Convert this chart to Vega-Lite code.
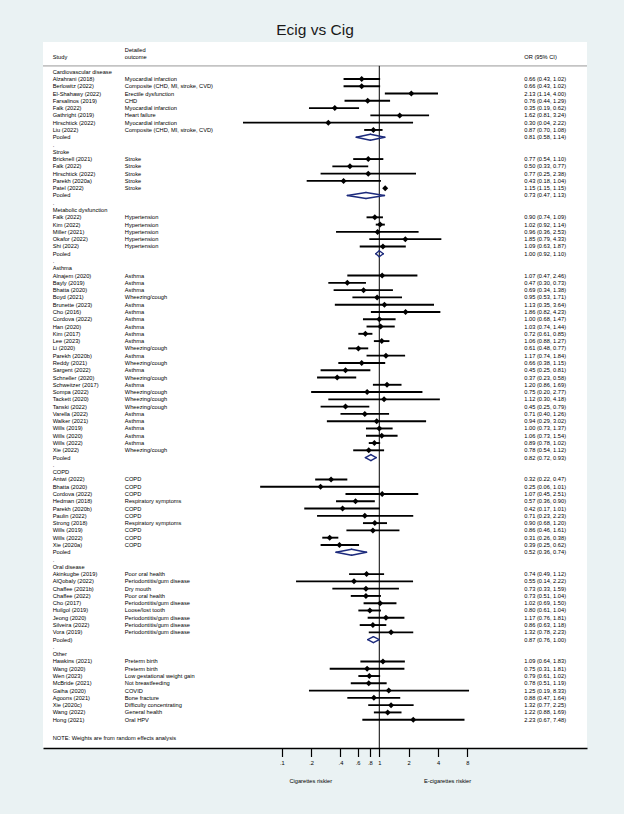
{
  "$schema": "https://vega.github.io/schema/vega-lite/v6.json",
  "width": 544,
  "height": 706,
  "autosize": {"type": "none"},
  "padding": {"left": 43, "top": 42, "right": 37, "bottom": 66},
  "background": "#eaf2f3",
  "title": {"text": "Ecig vs Cig", "fontSize": 15.5, "font": "Liberation Sans", "fontWeight": "normal", "color": "#1a1a1a", "offset": 4, "anchor": "middle"},
  "config": {
    "font": "Liberation Sans",
    "view": {"stroke": null, "fill": "white"},
    "axisY": {"disable": true},
    "axisX": {"domainColor": "#000", "domainWidth": 1.6, "tickColor": "#000", "tickWidth": 1.2, "tickSize": 8.5, "labelFontSize": 5.7, "labelColor": "#000", "labelPadding": 3, "labelFont": "Liberation Sans", "grid": false}
  },
  "datasets": {
    "rows": [
      {"row": -3, "study": "", "outcome": "Detailed", "label": "", "type": "head"},
      {"row": -2, "study": "Study", "outcome": "outcome", "label": "OR (95% CI)", "type": "head"},
      {"row": 0, "study": "Cardiovascular disease", "outcome": "", "label": "", "type": "section"},
      {"row": 1, "study": "Alzahrani (2018)", "outcome": "Myocardial infarction", "or": 0.66, "lci": 0.43, "uci": 1.02, "label": "0.66 (0.43, 1.02)", "type": "study"},
      {"row": 2, "study": "Berlowitz (2022)", "outcome": "Composite (CHD, MI, stroke, CVD)", "or": 0.66, "lci": 0.43, "uci": 1.02, "label": "0.66 (0.43, 1.02)", "type": "study"},
      {"row": 3, "study": "El-Shahawy (2022)", "outcome": "Erectile dysfunction", "or": 2.13, "lci": 1.14, "uci": 4.00, "label": "2.13 (1.14, 4.00)", "type": "study"},
      {"row": 4, "study": "Farsalinos (2019)", "outcome": "CHD", "or": 0.76, "lci": 0.44, "uci": 1.29, "label": "0.76 (0.44, 1.29)", "type": "study"},
      {"row": 5, "study": "Falk (2022)", "outcome": "Myocardial infarction", "or": 0.35, "lci": 0.19, "uci": 0.62, "label": "0.35 (0.19, 0.62)", "type": "study"},
      {"row": 6, "study": "Gathright (2019)", "outcome": "Heart failure", "or": 1.62, "lci": 0.81, "uci": 3.24, "label": "1.62 (0.81, 3.24)", "type": "study"},
      {"row": 7, "study": "Hirschtick (2022)", "outcome": "Myocardial infarction", "or": 0.30, "lci": 0.04, "uci": 2.22, "label": "0.30 (0.04, 2.22)", "type": "study"},
      {"row": 8, "study": "Liu (2022)", "outcome": "Composite (CHD, MI, stroke, CVD)", "or": 0.87, "lci": 0.70, "uci": 1.08, "label": "0.87 (0.70, 1.08)", "type": "study"},
      {"row": 9, "study": "Pooled", "outcome": "", "or": 0.81, "lci": 0.58, "uci": 1.14, "label": "0.81 (0.58, 1.14)", "type": "pooled"},
      {"row": 10, "study": ".", "outcome": "", "label": "", "type": "dot"},
      {"row": 11, "study": "Stroke", "outcome": "", "label": "", "type": "section"},
      {"row": 12, "study": "Bricknell (2021)", "outcome": "Stroke", "or": 0.77, "lci": 0.54, "uci": 1.10, "label": "0.77 (0.54, 1.10)", "type": "study"},
      {"row": 13, "study": "Falk (2022)", "outcome": "Stroke", "or": 0.50, "lci": 0.33, "uci": 0.77, "label": "0.50 (0.33, 0.77)", "type": "study"},
      {"row": 14, "study": "Hirschtick (2022)", "outcome": "Stroke", "or": 0.77, "lci": 0.25, "uci": 2.38, "label": "0.77 (0.25, 2.38)", "type": "study"},
      {"row": 15, "study": "Parekh (2020a)", "outcome": "Stroke", "or": 0.43, "lci": 0.18, "uci": 1.04, "label": "0.43 (0.18, 1.04)", "type": "study"},
      {"row": 16, "study": "Patel (2022)", "outcome": "Stroke", "or": 1.15, "lci": 1.15, "uci": 1.15, "label": "1.15 (1.15, 1.15)", "type": "study"},
      {"row": 17, "study": "Pooled", "outcome": "", "or": 0.73, "lci": 0.47, "uci": 1.13, "label": "0.73 (0.47, 1.13)", "type": "pooled"},
      {"row": 18, "study": ".", "outcome": "", "label": "", "type": "dot"},
      {"row": 19, "study": "Metabolic dysfunction", "outcome": "", "label": "", "type": "section"},
      {"row": 20, "study": "Falk (2022)", "outcome": "Hypertension", "or": 0.90, "lci": 0.74, "uci": 1.09, "label": "0.90 (0.74, 1.09)", "type": "study"},
      {"row": 21, "study": "Kim (2022)", "outcome": "Hypertension", "or": 1.02, "lci": 0.92, "uci": 1.14, "label": "1.02 (0.92, 1.14)", "type": "study"},
      {"row": 22, "study": "Miller (2021)", "outcome": "Hypertension", "or": 0.96, "lci": 0.36, "uci": 2.53, "label": "0.96 (0.36, 2.53)", "type": "study"},
      {"row": 23, "study": "Okafor (2022)", "outcome": "Hypertension", "or": 1.85, "lci": 0.79, "uci": 4.33, "label": "1.85 (0.79, 4.33)", "type": "study"},
      {"row": 24, "study": "Shi (2022)", "outcome": "Hypertension", "or": 1.09, "lci": 0.63, "uci": 1.87, "label": "1.09 (0.63, 1.87)", "type": "study"},
      {"row": 25, "study": "Pooled", "outcome": "", "or": 1.00, "lci": 0.92, "uci": 1.10, "label": "1.00 (0.92, 1.10)", "type": "pooled"},
      {"row": 26, "study": ".", "outcome": "", "label": "", "type": "dot"},
      {"row": 27, "study": "Asthma", "outcome": "", "label": "", "type": "section"},
      {"row": 28, "study": "Alnajem (2020)", "outcome": "Asthma", "or": 1.07, "lci": 0.47, "uci": 2.46, "label": "1.07 (0.47, 2.46)", "type": "study"},
      {"row": 29, "study": "Bayly (2019)", "outcome": "Asthma", "or": 0.47, "lci": 0.30, "uci": 0.73, "label": "0.47 (0.30, 0.73)", "type": "study"},
      {"row": 30, "study": "Bhatta (2020)", "outcome": "Asthma", "or": 0.69, "lci": 0.34, "uci": 1.38, "label": "0.69 (0.34, 1.38)", "type": "study"},
      {"row": 31, "study": "Boyd (2021)", "outcome": "Wheezing/cough", "or": 0.95, "lci": 0.53, "uci": 1.71, "label": "0.95 (0.53, 1.71)", "type": "study"},
      {"row": 32, "study": "Brunette (2023)", "outcome": "Asthma", "or": 1.13, "lci": 0.35, "uci": 3.64, "label": "1.13 (0.35, 3.64)", "type": "study"},
      {"row": 33, "study": "Cho (2016)", "outcome": "Asthma", "or": 1.86, "lci": 0.82, "uci": 4.23, "label": "1.86 (0.82, 4.23)", "type": "study"},
      {"row": 34, "study": "Cordova (2022)", "outcome": "Asthma", "or": 1.00, "lci": 0.68, "uci": 1.47, "label": "1.00 (0.68, 1.47)", "type": "study"},
      {"row": 35, "study": "Han (2020)", "outcome": "Asthma", "or": 1.03, "lci": 0.74, "uci": 1.44, "label": "1.03 (0.74, 1.44)", "type": "study"},
      {"row": 36, "study": "Kim (2017)", "outcome": "Asthma", "or": 0.72, "lci": 0.61, "uci": 0.85, "label": "0.72 (0.61, 0.85)", "type": "study"},
      {"row": 37, "study": "Lee (2023)", "outcome": "Asthma", "or": 1.06, "lci": 0.88, "uci": 1.27, "label": "1.06 (0.88, 1.27)", "type": "study"},
      {"row": 38, "study": "Li (2020)", "outcome": "Wheezing/cough", "or": 0.61, "lci": 0.48, "uci": 0.77, "label": "0.61 (0.48, 0.77)", "type": "study"},
      {"row": 39, "study": "Parekh (2020b)", "outcome": "Asthma", "or": 1.17, "lci": 0.74, "uci": 1.84, "label": "1.17 (0.74, 1.84)", "type": "study"},
      {"row": 40, "study": "Reddy (2021)", "outcome": "Wheezing/cough", "or": 0.66, "lci": 0.38, "uci": 1.15, "label": "0.66 (0.38, 1.15)", "type": "study"},
      {"row": 41, "study": "Sargent (2022)", "outcome": "Asthma", "or": 0.45, "lci": 0.25, "uci": 0.81, "label": "0.45 (0.25, 0.81)", "type": "study"},
      {"row": 42, "study": "Schneller (2020)", "outcome": "Wheezing/cough", "or": 0.37, "lci": 0.23, "uci": 0.58, "label": "0.37 (0.23, 0.58)", "type": "study"},
      {"row": 43, "study": "Schweitzer (2017)", "outcome": "Asthma", "or": 1.20, "lci": 0.86, "uci": 1.69, "label": "1.20 (0.86, 1.69)", "type": "study"},
      {"row": 44, "study": "Sompa (2022)", "outcome": "Wheezing/cough", "or": 0.75, "lci": 0.20, "uci": 2.77, "label": "0.75 (0.20, 2.77)", "type": "study"},
      {"row": 45, "study": "Tackett (2020)", "outcome": "Wheezing/cough", "or": 1.12, "lci": 0.30, "uci": 4.18, "label": "1.12 (0.30, 4.18)", "type": "study"},
      {"row": 46, "study": "Tanski (2022)", "outcome": "Wheezing/cough", "or": 0.45, "lci": 0.25, "uci": 0.79, "label": "0.45 (0.25, 0.79)", "type": "study"},
      {"row": 47, "study": "Varella (2022)", "outcome": "Asthma", "or": 0.71, "lci": 0.40, "uci": 1.26, "label": "0.71 (0.40, 1.26)", "type": "study"},
      {"row": 48, "study": "Walker (2021)", "outcome": "Asthma", "or": 0.94, "lci": 0.29, "uci": 3.02, "label": "0.94 (0.29, 3.02)", "type": "study"},
      {"row": 49, "study": "Wills (2019)", "outcome": "Asthma", "or": 1.00, "lci": 0.73, "uci": 1.37, "label": "1.00 (0.73, 1.37)", "type": "study"},
      {"row": 50, "study": "Wills (2020)", "outcome": "Asthma", "or": 1.06, "lci": 0.73, "uci": 1.54, "label": "1.06 (0.73, 1.54)", "type": "study"},
      {"row": 51, "study": "Wills (2022)", "outcome": "Asthma", "or": 0.89, "lci": 0.78, "uci": 1.02, "label": "0.89 (0.78, 1.02)", "type": "study"},
      {"row": 52, "study": "Xie (2022)", "outcome": "Wheezing/cough", "or": 0.78, "lci": 0.54, "uci": 1.12, "label": "0.78 (0.54, 1.12)", "type": "study"},
      {"row": 53, "study": "Pooled", "outcome": "", "or": 0.82, "lci": 0.72, "uci": 0.93, "label": "0.82 (0.72, 0.93)", "type": "pooled"},
      {"row": 54, "study": ".", "outcome": "", "label": "", "type": "dot"},
      {"row": 55, "study": "COPD", "outcome": "", "label": "", "type": "section"},
      {"row": 56, "study": "Antwi (2022)", "outcome": "COPD", "or": 0.32, "lci": 0.22, "uci": 0.47, "label": "0.32 (0.22, 0.47)", "type": "study"},
      {"row": 57, "study": "Bhatta (2020)", "outcome": "COPD", "or": 0.25, "lci": 0.06, "uci": 1.01, "label": "0.25 (0.06, 1.01)", "type": "study"},
      {"row": 58, "study": "Cordova (2022)", "outcome": "COPD", "or": 1.07, "lci": 0.45, "uci": 2.51, "label": "1.07 (0.45, 2.51)", "type": "study"},
      {"row": 59, "study": "Hedman (2018)", "outcome": "Respiratory symptoms", "or": 0.57, "lci": 0.36, "uci": 0.90, "label": "0.57 (0.36, 0.90)", "type": "study"},
      {"row": 60, "study": "Parekh (2020b)", "outcome": "COPD", "or": 0.42, "lci": 0.17, "uci": 1.01, "label": "0.42 (0.17, 1.01)", "type": "study"},
      {"row": 61, "study": "Paulin (2022)", "outcome": "COPD", "or": 0.71, "lci": 0.23, "uci": 2.23, "label": "0.71 (0.23, 2.23)", "type": "study"},
      {"row": 62, "study": "Strong (2018)", "outcome": "Respiratory symptoms", "or": 0.90, "lci": 0.68, "uci": 1.20, "label": "0.90 (0.68, 1.20)", "type": "study"},
      {"row": 63, "study": "Wills (2019)", "outcome": "COPD", "or": 0.86, "lci": 0.46, "uci": 1.61, "label": "0.86 (0.46, 1.61)", "type": "study"},
      {"row": 64, "study": "Wills (2022)", "outcome": "COPD", "or": 0.31, "lci": 0.26, "uci": 0.38, "label": "0.31 (0.26, 0.38)", "type": "study"},
      {"row": 65, "study": "Xie (2020a)", "outcome": "COPD", "or": 0.39, "lci": 0.25, "uci": 0.62, "label": "0.39 (0.25, 0.62)", "type": "study"},
      {"row": 66, "study": "Pooled", "outcome": "", "or": 0.52, "lci": 0.36, "uci": 0.74, "label": "0.52 (0.36, 0.74)", "type": "pooled"},
      {"row": 67, "study": ".", "outcome": "", "label": "", "type": "dot"},
      {"row": 68, "study": "Oral disease", "outcome": "", "label": "", "type": "section"},
      {"row": 69, "study": "Akinkugbe (2019)", "outcome": "Poor oral health", "or": 0.74, "lci": 0.49, "uci": 1.12, "label": "0.74 (0.49, 1.12)", "type": "study"},
      {"row": 70, "study": "AlQobaly (2022)", "outcome": "Periodontitis/gum disease", "or": 0.55, "lci": 0.14, "uci": 2.22, "label": "0.55 (0.14, 2.22)", "type": "study"},
      {"row": 71, "study": "Chaffee (2021b)", "outcome": "Dry mouth", "or": 0.73, "lci": 0.33, "uci": 1.59, "label": "0.73 (0.33, 1.59)", "type": "study"},
      {"row": 72, "study": "Chaffee (2022)", "outcome": "Poor oral health", "or": 0.73, "lci": 0.51, "uci": 1.04, "label": "0.73 (0.51, 1.04)", "type": "study"},
      {"row": 73, "study": "Cho (2017)", "outcome": "Periodontitis/gum disease", "or": 1.02, "lci": 0.69, "uci": 1.50, "label": "1.02 (0.69, 1.50)", "type": "study"},
      {"row": 74, "study": "Huilgol (2019)", "outcome": "Loose/lost tooth", "or": 0.80, "lci": 0.61, "uci": 1.04, "label": "0.80 (0.61, 1.04)", "type": "study"},
      {"row": 75, "study": "Jeong (2020)", "outcome": "Periodontitis/gum disease", "or": 1.17, "lci": 0.76, "uci": 1.81, "label": "1.17 (0.76, 1.81)", "type": "study"},
      {"row": 76, "study": "Silveira (2022)", "outcome": "Periodontitis/gum disease", "or": 0.86, "lci": 0.63, "uci": 1.18, "label": "0.86 (0.63, 1.18)", "type": "study"},
      {"row": 77, "study": "Vora (2019)", "outcome": "Periodontitis/gum disease", "or": 1.32, "lci": 0.78, "uci": 2.23, "label": "1.32 (0.78, 2.23)", "type": "study"},
      {"row": 78, "study": "Pooled)", "outcome": "", "or": 0.87, "lci": 0.76, "uci": 1.00, "label": "0.87 (0.76, 1.00)", "type": "pooled"},
      {"row": 79, "study": ".", "outcome": "", "label": "", "type": "dot"},
      {"row": 80, "study": "Other", "outcome": "", "label": "", "type": "section"},
      {"row": 81, "study": "Hawkins (2021)", "outcome": "Preterm birth", "or": 1.09, "lci": 0.64, "uci": 1.83, "label": "1.09 (0.64, 1.83)", "type": "study"},
      {"row": 82, "study": "Wang (2020)", "outcome": "Preterm birth", "or": 0.75, "lci": 0.31, "uci": 1.81, "label": "0.75 (0.31, 1.81)", "type": "study"},
      {"row": 83, "study": "Wen (2023)", "outcome": "Low gestational weight gain", "or": 0.79, "lci": 0.61, "uci": 1.02, "label": "0.79 (0.61, 1.02)", "type": "study"},
      {"row": 84, "study": "McBride (2021)", "outcome": "Not breastfeeding", "or": 0.78, "lci": 0.51, "uci": 1.19, "label": "0.78 (0.51, 1.19)", "type": "study"},
      {"row": 85, "study": "Gaiha (2020)", "outcome": "COVID", "or": 1.25, "lci": 0.19, "uci": 8.33, "label": "1.25 (0.19, 8.33)", "type": "study"},
      {"row": 86, "study": "Agoons (2021)", "outcome": "Bone fracture", "or": 0.88, "lci": 0.47, "uci": 1.64, "label": "0.88 (0.47, 1.64)", "type": "study"},
      {"row": 87, "study": "Xie (2020c)", "outcome": "Difficulty concentrating", "or": 1.32, "lci": 0.77, "uci": 2.25, "label": "1.32 (0.77, 2.25)", "type": "study"},
      {"row": 88, "study": "Wang (2022)", "outcome": "General health", "or": 1.22, "lci": 0.88, "uci": 1.69, "label": "1.22 (0.88, 1.69)", "type": "study"},
      {"row": 89, "study": "Hong (2021)", "outcome": "Oral HPV", "or": 2.23, "lci": 0.67, "uci": 7.48, "label": "2.23 (0.67, 7.48)", "type": "study"},
      {"row": 91.5, "study": "NOTE: Weights are from random effects analysis", "outcome": "", "label": "", "type": "note"}
    ]
  },
  "data": {"name": "rows"},
  "layer": [
    {
      "data": {"values": [{}]},
      "mark": {"type": "rule", "color": "#c4c4c4", "strokeWidth": 1.8},
      "encoding": {
        "y": {"datum": -0.8, "type": "quantitative", "scale": {"type": "linear", "domain": [-4.079, 92.886], "reverse": true, "nice": false, "zero": false}}
      }
    },
    {
      "data": {"values": [{}]},
      "mark": {"type": "rule", "color": "#000", "strokeWidth": 1},
      "encoding": {
        "x": {"datum": 1, "type": "quantitative", "title": null, "scale": {"type": "log", "domain": [0.0003555, 135], "nice": false}},
        "y": {"datum": -0.8, "type": "quantitative", "scale": {"type": "linear", "domain": [-4.079, 92.886], "reverse": true, "nice": false, "zero": false}},
        "y2": {"datum": 92.886}
      }
    },
    {
      "transform": [{"filter": "datum.type === 'study'"}],
      "mark": {"type": "rule", "color": "#000", "strokeWidth": 1.9},
      "encoding": {
        "x": {"field": "lci", "type": "quantitative", "title": null, "scale": {"type": "log", "domain": [0.0003555, 135], "nice": false},
          "axis": {"values": [0.1, 0.2, 0.4, 0.6, 0.8, 1, 2, 4, 8], "labelExpr": "datum.value < 1 ? slice(format(datum.value, '.1f'), 1) : format(datum.value, 'd')", "title": null}},
        "x2": {"field": "uci"},
        "y": {"field": "row", "type": "quantitative", "scale": {"type": "linear", "domain": [-4.079, 92.886], "reverse": true, "nice": false, "zero": false}}
      }
    },
    {
      "transform": [{"filter": "datum.type === 'study'"}],
      "mark": {"type": "point", "shape": "diamond", "filled": true, "color": "#000", "size": 36, "opacity": 1},
      "encoding": {
        "x": {"field": "or", "type": "quantitative", "title": null, "scale": {"type": "log", "domain": [0.0003555, 135], "nice": false}},
        "y": {"field": "row", "type": "quantitative", "scale": {"type": "linear", "domain": [-4.079, 92.886], "reverse": true, "nice": false, "zero": false}}
      }
    },
    {
      "transform": [{"filter": "datum.type === 'pooled'"}],
      "mark": {"type": "rule", "color": "#1c2a7c", "strokeWidth": 1.4, "strokeCap": "round", "y2Offset": -3},
      "encoding": {
        "x": {"field": "lci", "type": "quantitative", "title": null, "scale": {"type": "log", "domain": [0.0003555, 135], "nice": false}},
        "x2": {"field": "or"},
        "y": {"field": "row", "type": "quantitative", "scale": {"type": "linear", "domain": [-4.079, 92.886], "reverse": true, "nice": false, "zero": false}},
        "y2": {"field": "row"}
      }
    },
    {
      "transform": [{"filter": "datum.type === 'pooled'"}],
      "mark": {"type": "rule", "color": "#1c2a7c", "strokeWidth": 1.4, "strokeCap": "round", "y2Offset": 3},
      "encoding": {
        "x": {"field": "lci", "type": "quantitative", "title": null, "scale": {"type": "log", "domain": [0.0003555, 135], "nice": false}},
        "x2": {"field": "or"},
        "y": {"field": "row", "type": "quantitative", "scale": {"type": "linear", "domain": [-4.079, 92.886], "reverse": true, "nice": false, "zero": false}},
        "y2": {"field": "row"}
      }
    },
    {
      "transform": [{"filter": "datum.type === 'pooled'"}],
      "mark": {"type": "rule", "color": "#1c2a7c", "strokeWidth": 1.4, "strokeCap": "round", "yOffset": -3},
      "encoding": {
        "x": {"field": "or", "type": "quantitative", "title": null, "scale": {"type": "log", "domain": [0.0003555, 135], "nice": false}},
        "x2": {"field": "uci"},
        "y": {"field": "row", "type": "quantitative", "scale": {"type": "linear", "domain": [-4.079, 92.886], "reverse": true, "nice": false, "zero": false}},
        "y2": {"field": "row"}
      }
    },
    {
      "transform": [{"filter": "datum.type === 'pooled'"}],
      "mark": {"type": "rule", "color": "#1c2a7c", "strokeWidth": 1.4, "strokeCap": "round", "yOffset": 3},
      "encoding": {
        "x": {"field": "or", "type": "quantitative", "title": null, "scale": {"type": "log", "domain": [0.0003555, 135], "nice": false}},
        "x2": {"field": "uci"},
        "y": {"field": "row", "type": "quantitative", "scale": {"type": "linear", "domain": [-4.079, 92.886], "reverse": true, "nice": false, "zero": false}},
        "y2": {"field": "row"}
      }
    },
    {
      "mark": {"type": "text", "align": "left", "baseline": "middle", "fontSize": 5.7, "color": "#000"},
      "encoding": {
        "x": {"datum": 0.000447, "type": "quantitative", "title": null, "scale": {"type": "log", "domain": [0.0003555, 135], "nice": false}},
        "y": {"field": "row", "type": "quantitative", "scale": {"type": "linear", "domain": [-4.079, 92.886], "reverse": true, "nice": false, "zero": false}},
        "text": {"field": "study"}
      }
    },
    {
      "mark": {"type": "text", "align": "left", "baseline": "middle", "fontSize": 5.7, "color": "#000"},
      "encoding": {
        "x": {"datum": 0.002454, "type": "quantitative", "title": null, "scale": {"type": "log", "domain": [0.0003555, 135], "nice": false}},
        "y": {"field": "row", "type": "quantitative", "scale": {"type": "linear", "domain": [-4.079, 92.886], "reverse": true, "nice": false, "zero": false}},
        "text": {"field": "outcome"}
      }
    },
    {
      "mark": {"type": "text", "align": "left", "baseline": "middle", "fontSize": 5.7, "color": "#000"},
      "encoding": {
        "x": {"datum": 30.7, "type": "quantitative", "title": null, "scale": {"type": "log", "domain": [0.0003555, 135], "nice": false}},
        "y": {"field": "row", "type": "quantitative", "scale": {"type": "linear", "domain": [-4.079, 92.886], "reverse": true, "nice": false, "zero": false}},
        "text": {"field": "label"}
      }
    },
    {
      "data": {"values": [{}]},
      "mark": {"type": "text", "align": "center", "baseline": "middle", "fontSize": 5.7, "color": "#000", "text": "Cigarettes riskier"},
      "encoding": {
        "x": {"datum": 0.198, "type": "quantitative", "title": null, "scale": {"type": "log", "domain": [0.0003555, 135], "nice": false}},
        "y": {"datum": 97.42, "type": "quantitative", "scale": {"type": "linear", "domain": [-4.079, 92.886], "reverse": true, "nice": false, "zero": false}}
      }
    },
    {
      "data": {"values": [{}]},
      "mark": {"type": "text", "align": "center", "baseline": "middle", "fontSize": 5.7, "color": "#000", "text": "E-cigarettes riskier"},
      "encoding": {
        "x": {"datum": 5.02, "type": "quantitative", "title": null, "scale": {"type": "log", "domain": [0.0003555, 135], "nice": false}},
        "y": {"datum": 97.42, "type": "quantitative", "scale": {"type": "linear", "domain": [-4.079, 92.886], "reverse": true, "nice": false, "zero": false}}
      }
    }
  ]
}
